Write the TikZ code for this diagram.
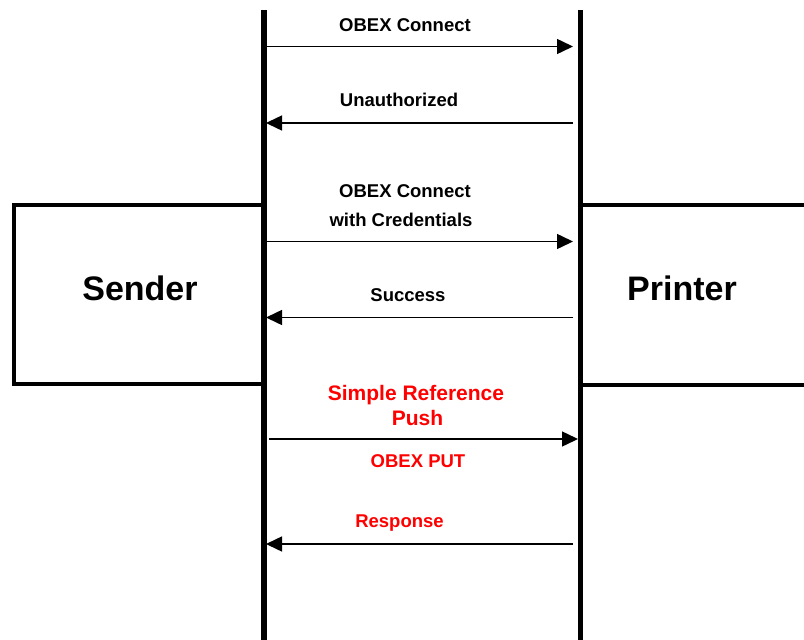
\documentclass[tikz,border=0pt]{standalone}
\usepackage{fontspec}
\setmainfont{Liberation Sans}
\usetikzlibrary{arrows.meta, positioning}

\begin{document}
\begin{tikzpicture}[x=1pt, y=-1pt,
    lifeline/.style={line width=5.5pt},
    partybox/.style={line width=4pt},
    party/.style={font=\bfseries\fontsize{34}{40}\selectfont, inner sep=0pt},
    msg/.style={line width=1.5pt, -{Triangle[length=16pt, width=15pt]}},
    lbl/.style={font=\bfseries\fontsize{18.5}{22}\selectfont, anchor=base, inner sep=0pt},
    redlbl/.style={lbl, text=red, font=\bfseries\fontsize{21}{25}\selectfont}]
    \useasboundingbox (0,0) rectangle (804,640);
    \clip (0,0) rectangle (804,640);

    % Sender
    \draw[partybox] (14,205) rectangle (264,384);
    \node[party, anchor=base] (sender) at (140,300) {Sender};

    % Printer (box runs off the right edge)
    \draw[partybox, fill=white] (580,205) rectangle (830,385);
    \node[party, anchor=base] (printer) at (682,300) {Printer};

    % lifelines
    \coordinate (stop) at (264,10);
    \coordinate (sbot) at (264,640);
    \coordinate (ptop) at (580.5,10);
    \coordinate (pbot) at (580.5,640);
    \draw[lifeline] (stop) -- (sbot);
    \draw[lifeline] (ptop) -- (pbot);

    % message end points
    \foreach \i/\y in {1/46.5, 2/123, 3/241.5, 4/317.5, 6/544} {
        \coordinate (s\i) at (266,\y);
        \coordinate (p\i) at (573,\y);
    }
    \coordinate (s5) at (269,439);
    \coordinate (p5) at (578,439);

    % OBEX Connect
    \draw[msg] (s1) -- (p1);
    \node[lbl] (connect) at (405,31) {OBEX Connect};

    % Unauthorized
    \draw[msg] (p2) -- (s2);
    \node[lbl] (unauth) at (399,106) {Unauthorized};

    % OBEX Connect with Credentials
    \draw[msg] (s3) -- (p3);
    \node[lbl] (connect cred) at (405,197) {OBEX Connect};
    \node[lbl] (cred) at (401,226) {with Credentials};

    % Success
    \draw[msg] (p4) -- (s4);
    \node[lbl] (success) at (408,301) {Success};

    % Simple Reference Push
    \draw[msg] (s5) -- (p5);
    \node[redlbl] (srp) at (416,400) {Simple Reference};
    \node[redlbl] (push) at (417.5,425) {Push};
    \node[lbl, text=red] (put) at (418,467) {OBEX PUT};

    % Response
    \draw[msg] (p6) -- (s6);
    \node[lbl, text=red] (response) at (399.5,527) {Response};
\end{tikzpicture}
\end{document}
